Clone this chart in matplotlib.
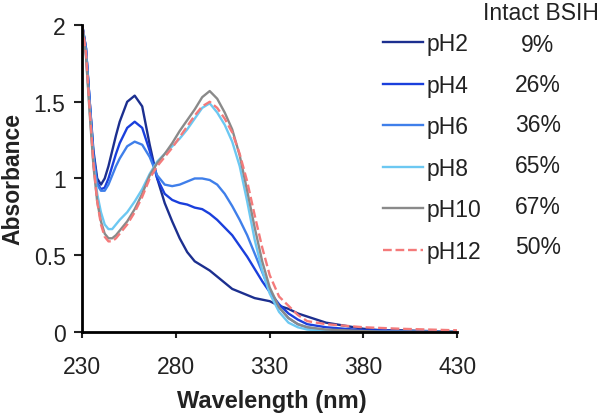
import matplotlib
matplotlib.use('Agg')
import matplotlib.pyplot as plt
import numpy as np

plt.rcParams['font.family'] = ['Liberation Sans', 'DejaVu Sans']

# wavelength grid (nm)
wl = [230, 232, 234, 236, 238, 240, 242, 244, 246, 248, 250, 254, 258, 262, 266, 270,
      274, 278, 282, 286, 290, 294, 298, 302, 306, 310, 314, 318, 322, 326, 330, 335,
      340, 345, 350, 360, 370, 380, 390, 400, 415, 430]

ph2 = [2.0, 1.85, 1.5, 1.18, 1.0, 0.96, 1.0, 1.08, 1.18, 1.28, 1.37, 1.50, 1.54, 1.47, 1.22, 1.0,
       0.84, 0.72, 0.61, 0.52, 0.46, 0.43, 0.40, 0.36, 0.32, 0.28, 0.26, 0.24, 0.22, 0.21, 0.20, 0.17,
       0.15, 0.12, 0.10, 0.06, 0.04, 0.02, 0.01, 0.01, 0.005, 0.0]
ph4 = [2.0, 1.85, 1.5, 1.15, 0.97, 0.93, 0.94, 1.0, 1.08, 1.16, 1.23, 1.33, 1.37, 1.33, 1.18, 1.0,
       0.90, 0.86, 0.84, 0.83, 0.81, 0.80, 0.77, 0.73, 0.68, 0.63, 0.56, 0.49, 0.41, 0.33, 0.26, 0.18,
       0.12, 0.08, 0.05, 0.03, 0.02, 0.01, 0.01, 0.005, 0.0, 0.0]
ph6 = [2.0, 1.85, 1.5, 1.15, 0.96, 0.92, 0.92, 0.96, 1.02, 1.08, 1.13, 1.21, 1.24, 1.22, 1.14, 1.02,
       0.96, 0.95, 0.96, 0.98, 1.0, 1.0, 0.99, 0.96, 0.90, 0.82, 0.73, 0.63, 0.51, 0.39, 0.27, 0.16,
       0.09, 0.05, 0.03, 0.01, 0.005, 0.0, 0.0, 0.0, 0.0, 0.0]
ph8 = [2.0, 1.8, 1.45, 1.1, 0.9, 0.78, 0.70, 0.67, 0.67, 0.70, 0.73, 0.78, 0.85, 0.93, 1.03, 1.11,
       1.16, 1.21, 1.26, 1.32, 1.39, 1.46, 1.49, 1.43, 1.35, 1.24, 1.08, 0.85, 0.60, 0.40, 0.25, 0.13,
       0.06, 0.03, 0.015, 0.005, 0.0, 0.0, 0.0, 0.0, 0.0, 0.0]
ph10 = [2.0, 1.8, 1.42, 1.08, 0.85, 0.72, 0.64, 0.61, 0.61, 0.63, 0.66, 0.72, 0.80, 0.90, 1.02, 1.10,
        1.16, 1.23, 1.31, 1.38, 1.45, 1.53, 1.57, 1.52, 1.43, 1.32, 1.15, 0.92, 0.68, 0.46, 0.29, 0.16,
        0.09, 0.05, 0.03, 0.015, 0.01, 0.005, 0.0, 0.0, 0.0, 0.0]
ph12 = [2.0, 1.82, 1.45, 1.1, 0.85, 0.70, 0.62, 0.59, 0.59, 0.61, 0.64, 0.70, 0.78, 0.88, 1.0, 1.08,
        1.14, 1.20, 1.27, 1.34, 1.41, 1.47, 1.50, 1.46, 1.39, 1.30, 1.16, 0.98, 0.76, 0.55, 0.37, 0.23,
        0.17, 0.11, 0.07, 0.05, 0.04, 0.03, 0.025, 0.02, 0.015, 0.01]

labels = ['pH2', 'pH4', 'pH6', 'pH8', 'pH10', 'pH12']
intact = ['9%', '26%', '36%', '65%', '67%', '50%']
colors = ['#1c2f8f', '#1a3fdc', '#3f7fea', '#6cc8f2', '#8a8a8a', '#f47a7a']
series = [ph2, ph4, ph6, ph8, ph10, ph12]

fs = 16.5
txt = '#222222'

fig = plt.figure(figsize=(6, 4.14), dpi=100)
ax = fig.add_axes([0.137, 0.196, 0.625, 0.741])

for i in range(len(series)):
    ls = '--' if labels[i] == 'pH12' else '-'
    ax.plot(wl, series[i], color=colors[i], lw=1.7, ls=ls, label=labels[i])

ax.set_xlim(230, 430)
ax.set_ylim(0, 2)
ax.set_xticks([230, 280, 330, 380, 430])
ax.set_yticks([0, 0.5, 1, 1.5, 2])
ax.set_yticklabels(['0', '0.5', '1', '1.5', '2'])
ax.tick_params(axis='x', labelsize=fs, direction='out', length=4.5, width=1.5, pad=12, colors=txt)
ax.tick_params(axis='y', labelsize=fs, direction='out', length=6, width=1.5, pad=6, colors=txt)
for s in ['top', 'right']:
    ax.spines[s].set_visible(False)
for s in ['left', 'bottom']:
    ax.spines[s].set_linewidth(2)
ax.set_xlabel('Wavelength (nm)', fontsize=17, fontweight='bold', color=txt)
ax.set_ylabel('Absorbance', fontsize=16.5, fontweight='bold', color=txt)
ax.xaxis.set_label_coords(0.505, -0.186)
ax.yaxis.set_label_coords(-0.153, 0.5)

leg = ax.legend(loc='upper left', bbox_to_anchor=(383/600, 1-33/414), bbox_transform=fig.transFigure,
                frameon=False, fontsize=fs, handlelength=1.75, handletextpad=0.17,
                labelspacing=0.81, borderaxespad=0, borderpad=0)
for t in leg.get_texts():
    t.set_color(txt)

fig.text(599/600, 1-14/414, 'Intact BSIH', ha='right', va='center', fontsize=fs, color=txt)
rows = [46, 86, 126, 167, 208, 248]
for i in range(len(intact)):
    fig.text(538/600, 1-rows[i]/414, intact[i], ha='center', va='center', fontsize=fs, color=txt)

fig.savefig('out.png', dpi=100)
